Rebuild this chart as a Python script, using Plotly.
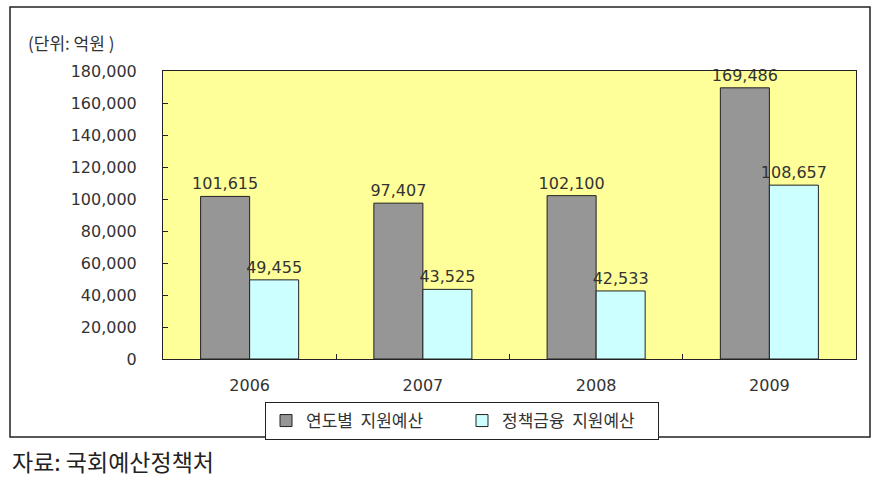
import plotly.graph_objects as go

years = ["2006", "2007", "2008", "2009"]
annual_budget = [101615, 97407, 102100, 169486]
policy_finance = [49455, 43525, 42533, 108657]
series_names = ["연도별  지원예산", "정책금융  지원예산"]
y_ticks = list(range(0, 180001, 20000))

W, H = 877, 479
ml, mr, mt, mb = 163, 21, 71, 120
pw, ph = W - ml - mr, H - mt - mb

def px(x):
    return (x - ml) / pw

def py(y):
    return (H - mb - y) / ph

num_font = dict(family="DejaVu Sans", size=16, color="#333333")

fig = go.Figure()
fig.add_trace(go.Bar(
    x=years, y=annual_budget, name=series_names[0],
    marker=dict(color="#969696", line=dict(color="#222222", width=1)),
    text=[f"{v:,}" for v in annual_budget], textposition="outside",
    textfont=num_font, cliponaxis=False, constraintext="none",
))
fig.add_trace(go.Bar(
    x=years, y=policy_finance, name=series_names[1],
    marker=dict(color="#CCFFFF", line=dict(color="#222222", width=1)),
    text=[f"{v:,}" for v in policy_finance], textposition="outside",
    textfont=num_font, cliponaxis=False, constraintext="none",
))

fig.update_layout(
    width=W, height=H,
    margin=dict(l=ml, r=mr, t=mt, b=mb),
    paper_bgcolor="white", plot_bgcolor="#FFFF99",
    barmode="group", bargap=0.434, bargroupgap=0,
    showlegend=True,
    legend=dict(
        orientation="h", x=px(265), y=py(402), xanchor="left", yanchor="top",
        bordercolor="#222222", borderwidth=1, bgcolor="white",
        font=dict(family="Noto Sans CJK KR", size=17, color="#333333"),
        itemwidth=30, traceorder="normal", tracegroupgap=0,
        entrywidth=151, entrywidthmode="pixels",
    ),
    font=dict(family="DejaVu Sans", color="#333333"),
)
fig.update_xaxes(
    type="category", showline=True, linecolor="#222222", linewidth=1, mirror=True,
    ticks="inside", tickson="boundaries", ticklen=5, tickcolor="#222222",
    tickfont=num_font, ticklabelstandoff=12, showgrid=False,
)
fig.update_yaxes(
    range=[0, 180000], tickvals=y_ticks, tickformat=",",
    showline=True, linecolor="#222222", linewidth=1, mirror=True,
    ticks="inside", ticklen=5, tickcolor="#222222",
    tickfont=num_font, ticklabelstandoff=22, showgrid=False, zeroline=False,
)

fig.add_shape(type="rect", xref="paper", yref="paper",
              x0=px(10), x1=px(870), y0=py(437), y1=py(7),
              line=dict(color="#222222", width=1.5), layer="below")

fig.add_annotation(text="(단위: 억원 )", xref="paper", yref="paper",
                   x=px(26), y=py(43), xanchor="left", yanchor="middle",
                   showarrow=False,
                   font=dict(family="Noto Sans CJK KR", size=17, color="#333333"))
fig.add_annotation(text="자료: 국회예산정책처", xref="paper", yref="paper",
                   x=px(10), y=py(461), xanchor="left", yanchor="middle",
                   showarrow=False,
                   font=dict(family="Noto Sans CJK KR", size=23, color="#222222"))

fig.write_html("out.html")
